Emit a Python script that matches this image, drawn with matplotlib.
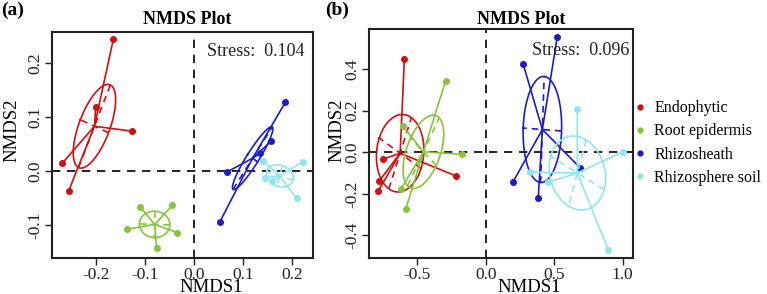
import numpy as np
import matplotlib.pyplot as plt
from matplotlib.lines import Line2D

plt.rcParams['font.family'] = 'serif'
plt.rcParams['font.serif'] = ['Liberation Serif', 'TeX Gyre Termes', 'DejaVu Serif']

groups = ['Endophytic', 'Root epidermis', 'Rhizosheath', 'Rhizosphere soil']
colors = ['#d10f0f', '#86c43c', '#1c1ccc', '#8fe6ee']

# panel (a) sample scores
a_endo_x = [-0.164, -0.200, -0.126, -0.268, -0.255]
a_endo_y = [0.244, 0.118, 0.074, 0.015, -0.036]
a_root_x = [-0.110, -0.044, -0.136, -0.034, -0.076]
a_root_y = [-0.065, -0.063, -0.107, -0.113, -0.142]
a_sheath_x = [0.186, 0.157, 0.134, 0.068, 0.053]
a_sheath_y = [0.127, 0.055, 0.033, -0.001, -0.093]
a_soil_x = [0.222, 0.209, 0.140, 0.144, 0.159]
a_soil_y = [0.018, -0.050, 0.019, -0.012, -0.018]

# panel (b) sample scores
b_endo_x = [-0.594, -0.752, -0.777, -0.784, -0.217]
b_endo_y = [0.447, -0.034, -0.138, -0.186, -0.114]
b_root_x = [-0.292, -0.175, -0.606, -0.618, -0.584]
b_root_y = [0.344, -0.010, 0.126, -0.176, -0.274]
b_sheath_x = [0.523, 0.274, 0.688, 0.201, 0.384]
b_sheath_y = [0.556, 0.423, -0.074, -0.141, -0.218]
b_soil_x = [0.669, 1.004, 0.457, 0.895, 0.323]
b_soil_y = [0.207, 0.003, -0.144, -0.470, -0.096]

stress_a = 0.104
stress_b = 0.096


def draw_group(ax, xs, ys, col):
    xs = np.array(xs)
    ys = np.array(ys)
    cx, cy = xs.mean(), ys.mean()
    for x, y in zip(xs, ys):
        ax.plot([cx, x], [cy, y], color=col, lw=1.2)
    ax.plot(xs, ys, 'o', color=col, ms=4, mec=col)
    cov = np.cov(xs, ys) * 0.72 ** 2
    vals, vecs = np.linalg.eigh(cov)
    t = np.linspace(0, 2 * np.pi, 200)
    circ = np.vstack([np.cos(t), np.sin(t)])
    ell = vecs @ (np.sqrt(vals)[:, None] * circ)
    ax.plot(cx + ell[0], cy + ell[1], color=col, lw=1.2)
    for i in range(2):
        d = vecs[:, i] * np.sqrt(vals[i])
        ax.plot([cx - d[0], cx + d[0]], [cy - d[1], cy + d[1]],
                color=col, lw=1.2, ls=(0, (4, 3)))


def setup(ax, xlim, ylim, xt, yt, stress, spos):
    ax.set_xlim(xlim)
    ax.set_ylim(ylim)
    ax.axhline(0, color='black', lw=1.2, ls=(0, (5, 4)), zorder=0)
    ax.axvline(0, color='black', lw=1.2, ls=(0, (5, 4)), zorder=0)
    ax.set_xticks(xt)
    ax.set_yticks(yt)
    ax.set_xticklabels(['%.1f' % v for v in xt])
    ax.set_yticklabels(['%.1f' % v for v in yt], rotation=90, va='center')
    ax.tick_params(labelsize=12.5, length=5, width=1, pad=1.5, colors='#222222')
    for s in ax.spines.values():
        s.set_linewidth(1.5)
        s.set_color('#222222')
    ax.text(spos[0], spos[1], 'Stress:  %.3f' % stress, transform=ax.transAxes,
            ha='right', va='center', fontsize=13, color='#222222')


fig = plt.figure(figsize=(7.67, 2.94), dpi=100)
ax1 = fig.add_axes([0.0678, 0.1224, 0.340, 0.769])
ax2 = fig.add_axes([0.4815, 0.1214, 0.344, 0.779])

for xs, ys, c in zip([a_endo_x, a_root_x, a_sheath_x, a_soil_x],
                     [a_endo_y, a_root_y, a_sheath_y, a_soil_y], colors):
    draw_group(ax1, xs, ys, c)
for xs, ys, c in zip([b_endo_x, b_root_x, b_sheath_x, b_soil_x],
                     [b_endo_y, b_root_y, b_sheath_y, b_soil_y], colors):
    draw_group(ax2, xs, ys, c)

setup(ax1, (-0.289, 0.242), (-0.160, 0.257), [-0.2, -0.1, 0.0, 0.1, 0.2],
      [-0.1, 0.0, 0.1, 0.2], stress_a, (0.969, 0.915))
setup(ax2, (-0.850, 1.077), (-0.510, 0.591), [-0.5, 0.0, 0.5, 1.0],
      [-0.4, -0.2, 0.0, 0.2, 0.4], stress_b, (0.9875, 0.908))

# titles and labels
fig.text(187 / 767, 1 - 20 / 294, 'NMDS Plot', ha='center', va='center',
         fontsize=13, fontweight='bold')
fig.text(521 / 767, 1 - 20 / 294, 'NMDS Plot', ha='center', va='center',
         fontsize=13, fontweight='bold')
fig.text(211 / 767, 1 - 287 / 294, 'NMDS1', ha='center', va='center', fontsize=13.5)
fig.text(529 / 767, 1 - 287 / 294, 'NMDS1', ha='center', va='center', fontsize=13.5)
fig.text(12 / 767, 1 - 130 / 294, 'NMDS2', ha='center', va='center',
         fontsize=13.5, rotation=90)
fig.text(337 / 767, 1 - 130 / 294, 'NMDS2', ha='center', va='center',
         fontsize=13.5, rotation=90)
fig.text(1 / 767, 1 - 10 / 294, '(a)', ha='left', va='center',
         fontsize=14, fontweight='bold')
fig.text(325 / 767, 1 - 10 / 294, '(b)', ha='left', va='center',
         fontsize=14, fontweight='bold')

handles = [Line2D([], [], ls='none', marker='o', ms=3.5, color=c) for c in colors]
fig.legend(handles, groups, loc='center left', bbox_to_anchor=(0.828, 1 - 143 / 294),
           frameon=False, fontsize=11.5, handlelength=0.6, handletextpad=0.6,
           labelspacing=0.45, borderpad=0, borderaxespad=0)

fig.savefig('out.png', dpi=100)
